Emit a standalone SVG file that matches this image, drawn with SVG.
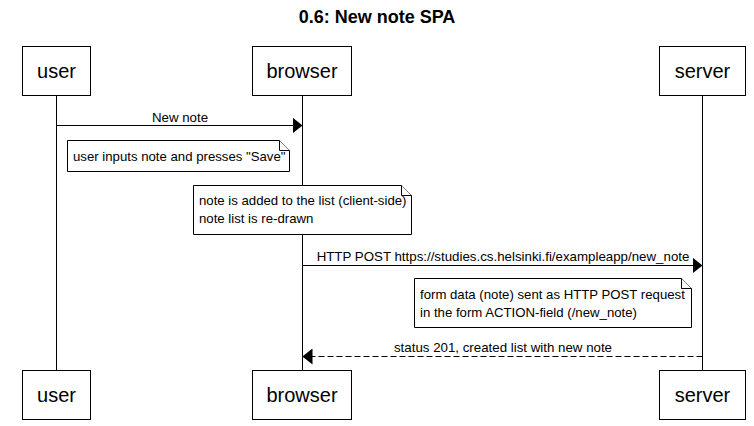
<svg xmlns="http://www.w3.org/2000/svg" width="754" height="426" viewBox="0 0 754 426">
<defs>
<style>
text{font-family:"Liberation Sans",Arial,sans-serif;fill:#000}
.actor{fill:#fff;stroke:#000;stroke-width:1}
.actor-t{font-size:20px;text-anchor:middle}
.life{stroke:#000;stroke-width:1}
.msg{stroke:#000;stroke-width:1;fill:none}
.dash{stroke-dasharray:6,3}
.lbl{font-size:13.3px;text-anchor:middle}
.note{fill:#fff;stroke:#000;stroke-width:1}
.nt{font-size:13.2px}
</style>
<marker id="ah" viewBox="0 0 10 16" refX="10" refY="8" markerWidth="10" markerHeight="16" markerUnits="userSpaceOnUse" orient="auto">
<path d="M0,0 L10,8 L0,16 z" fill="#000"/>
</marker>
</defs>
<rect width="754" height="426" fill="#fff"/>
<text x="377" y="23" font-size="18" font-weight="bold" text-anchor="middle">0.6: New note SPA</text>
<g id="lifelines">
<line class="life" x1="56.5" y1="96" x2="56.5" y2="370"/>
<line class="life" x1="302.5" y1="96" x2="302.5" y2="370"/>
<line class="life" x1="702.5" y1="96" x2="702.5" y2="370"/>
</g>
<g id="user">
<rect class="actor" x="22.5" y="46.5" width="68" height="49"/>
<text class="actor-t" x="56.5" y="78">user</text>
<rect class="actor" x="22.5" y="370.5" width="68" height="49"/>
<text class="actor-t" x="56.5" y="402">user</text>
</g>
<g id="browser">
<rect class="actor" x="252.5" y="46.5" width="99" height="49"/>
<text class="actor-t" x="302" y="78">browser</text>
<rect class="actor" x="252.5" y="370.5" width="99" height="49"/>
<text class="actor-t" x="302" y="402">browser</text>
</g>
<g id="server">
<rect class="actor" x="659.5" y="46.5" width="86" height="49"/>
<text class="actor-t" x="702.5" y="78">server</text>
<rect class="actor" x="659.5" y="370.5" width="86" height="49"/>
<text class="actor-t" x="702.5" y="402">server</text>
</g>
<g id="connectors">
<line class="msg" x1="56.5" y1="125.5" x2="302.5" y2="125.5" marker-end="url(#ah)"/>
<text class="lbl" x="180" y="122">New note</text>
<line class="msg" x1="302.5" y1="265.5" x2="702.5" y2="265.5" marker-end="url(#ah)"/>
<text class="lbl" x="503" y="261">HTTP POST https://studies.cs.helsinki.fi/exampleapp/new_note</text>
<line class="msg dash" x1="702.5" y1="356.5" x2="302.5" y2="356.5" marker-end="url(#ah)"/>
<text class="lbl" x="503" y="352">status 201, created list with new note</text>
</g>
<g id="note1">
<path class="note" d="M67.5,140.5 H279.5 L289.5,150.5 V171.5 H67.5 Z"/>
<path class="note" d="M279.5,140.5 V150.5 H289.5" fill="none"/>
<text class="nt" x="73" y="161">user inputs note and presses "Save"</text>
</g>
<g id="note2">
<path class="note" d="M193.5,185.5 H401.5 L411.5,195.5 V234.5 H193.5 Z"/>
<path class="note" d="M401.5,185.5 V195.5 H411.5" fill="none"/>
<text class="nt" x="199" y="205">note is added to the list (client-side)</text>
<text class="nt" x="199" y="223">note list is re-drawn</text>
</g>
<g id="note3">
<path class="note" d="M414.5,278.5 H681.5 L691.5,288.5 V327.5 H414.5 Z"/>
<path class="note" d="M681.5,278.5 V288.5 H691.5" fill="none"/>
<text class="nt" x="420" y="299">form data (note) sent as HTTP POST request</text>
<text class="nt" x="420" y="317">in the form ACTION-field (/new_note)</text>
</g>
</svg>
